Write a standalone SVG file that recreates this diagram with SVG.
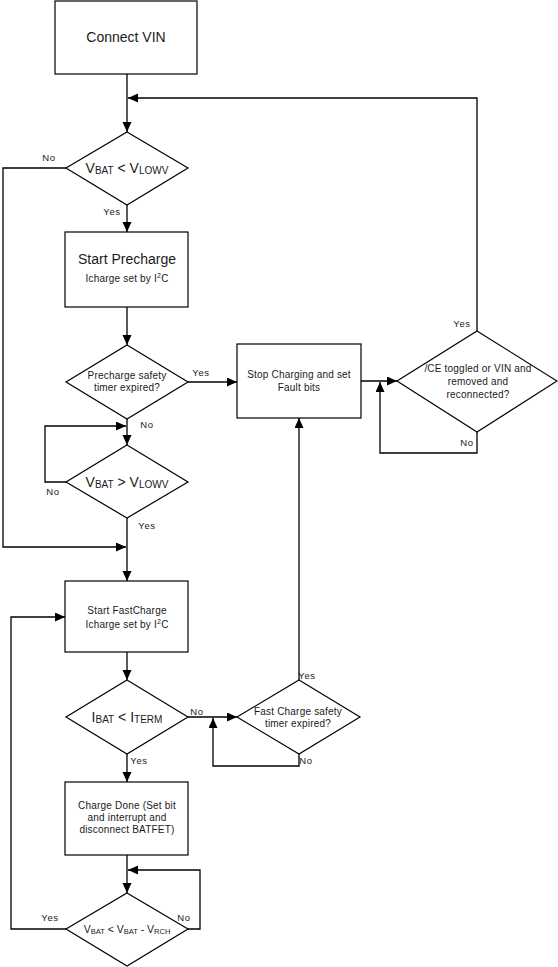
<svg xmlns="http://www.w3.org/2000/svg" width="558" height="967" viewBox="0 0 558 967">
<style>
.box{fill:#fff;stroke:#000;stroke-width:1.2}
.c{fill:none;stroke:#000;stroke-width:1.3}
text{font-family:"Liberation Sans",Arial,sans-serif;fill:#1a1a1a;text-anchor:middle}
.big{font-size:14px}
.sm{font-size:10px;letter-spacing:0.2px}
.lbl{font-size:9.5px;letter-spacing:0.6px}
.sub{font-size:10px}
</style>
<defs>
<marker id="ah" markerUnits="userSpaceOnUse" markerWidth="11" markerHeight="10" refX="10" refY="4.5" orient="auto">
<path d="M0,0 L10,4.5 L0,9 z" fill="#000"/>
</marker>
</defs>

<g id="connectors">
<path class="c" d="M127,74 V132" marker-end="url(#ah)"/>
<path class="c" d="M477,331 V98 H128" marker-end="url(#ah)"/>
<path class="c" d="M66,168 H3 V547 H126" marker-end="url(#ah)"/>
<path class="c" d="M127,205 V232" marker-end="url(#ah)"/>
<path class="c" d="M127,307 V345" marker-end="url(#ah)"/>
<path class="c" d="M188,382 H237" marker-end="url(#ah)"/>
<path class="c" d="M127,419 V445" marker-end="url(#ah)"/>
<path class="c" d="M66,482 H45 V426 H126" marker-end="url(#ah)"/>
<path class="c" d="M127,518 V581" marker-end="url(#ah)"/>
<path class="c" d="M361,381 H397" marker-end="url(#ah)"/>
<path class="c" d="M477,432 V453 H380 V382" marker-end="url(#ah)"/>
<path class="c" d="M127,652 V680" marker-end="url(#ah)"/>
<path class="c" d="M188,717 H237" marker-end="url(#ah)"/>
<path class="c" d="M299,680 V418" marker-end="url(#ah)"/>
<path class="c" d="M299,754 V766 H213 V718" marker-end="url(#ah)"/>
<path class="c" d="M127,754 V782" marker-end="url(#ah)"/>
<path class="c" d="M127,855 V893" marker-end="url(#ah)"/>
<path class="c" d="M188,929 H200 V870 H128" marker-end="url(#ah)"/>
<path class="c" d="M66,929 H11 V617 H65" marker-end="url(#ah)"/>
<text class="lbl" x="49" y="161">No</text>
<text class="lbl" x="112" y="215">Yes</text>
<text class="lbl" x="201" y="376">Yes</text>
<text class="lbl" x="147" y="428">No</text>
<text class="lbl" x="53" y="495">No</text>
<text class="lbl" x="147" y="529">Yes</text>
<text class="lbl" x="462" y="327">Yes</text>
<text class="lbl" x="467" y="446">No</text>
<text class="lbl" x="307" y="679">Yes</text>
<text class="lbl" x="197" y="715">No</text>
<text class="lbl" x="306" y="764">No</text>
<text class="lbl" x="139" y="764">Yes</text>
<text class="lbl" x="50" y="921">Yes</text>
<text class="lbl" x="184" y="921">No</text>
</g>

<g id="connect_vin">
<rect class="box" x="55" y="1" width="142" height="73"/>
<text class="big" x="126" y="42">Connect VIN</text>
</g>

<g id="d_vbat_lowv">
<path class="box" d="M127,132 L188,168 L127,205 L66,168 Z"/>
<text class="big" x="127" y="173">V<tspan class="sub" dy="1">BAT</tspan><tspan dy="-1"> &lt; V</tspan><tspan class="sub" dy="1">LOWV</tspan></text>
</g>

<g id="start_precharge">
<rect class="box" x="65" y="232" width="123" height="75"/>
<text class="big" x="127" y="264">Start Precharge</text>
<text class="sm" x="127" y="282" letter-spacing="0.4">Icharge set by I<tspan font-size="7" dy="-4">2</tspan><tspan dy="4">C</tspan></text>
</g>

<g id="d_precharge_timer">
<path class="box" d="M127,345 L188,382 L127,419 L66,382 Z"/>
<text class="sm" x="127" y="379">Precharge safety</text>
<text class="sm" x="127" y="391">timer expired?</text>
</g>

<g id="d_vbat_gt_lowv">
<path class="box" d="M127,445 L188,482 L127,518 L66,482 Z"/>
<text class="big" x="127" y="487">V<tspan class="sub" dy="1">BAT</tspan><tspan dy="-1"> &gt; V</tspan><tspan class="sub" dy="1">LOWV</tspan></text>
</g>

<g id="stop_charging">
<rect class="box" x="237" y="344" width="124" height="74"/>
<text class="sm" x="299" y="378">Stop Charging and set</text>
<text class="sm" x="299" y="391">Fault bits</text>
</g>

<g id="d_ce_toggled">
<path class="box" d="M477,331 L557,381 L477,432 L397,381 Z"/>
<text class="sm" x="478" y="372">/CE toggled or VIN and</text>
<text class="sm" x="478" y="385">removed and</text>
<text class="sm" x="478" y="398">reconnected?</text>
</g>

<g id="start_fastcharge">
<rect class="box" x="65" y="581" width="123" height="71"/>
<text class="sm" x="127" y="614">Start FastCharge</text>
<text class="sm" x="127" y="628" letter-spacing="0.4">Icharge set by I<tspan font-size="7" dy="-4">2</tspan><tspan dy="4">C</tspan></text>
</g>

<g id="d_ibat_iterm">
<path class="box" d="M127,680 L188,717 L127,754 L66,717 Z"/>
<text class="big" x="127" y="722">I<tspan class="sub" dy="1">BAT</tspan><tspan dy="-1"> &lt; I</tspan><tspan class="sub" dy="1">TERM</tspan></text>
</g>

<g id="d_fast_timer">
<path class="box" d="M299,680 L360,717 L299,754 L237,717 Z"/>
<text class="sm" x="298" y="715">Fast Charge safety</text>
<text class="sm" x="298" y="727">timer expired?</text>
</g>

<g id="charge_done">
<rect class="box" x="65" y="782" width="123" height="73"/>
<text class="sm" x="127" y="809">Charge Done (Set bit</text>
<text class="sm" x="127" y="821">and interrupt and</text>
<text class="sm" x="127" y="833">disconnect BATFET)</text>
</g>

<g id="d_recharge">
<path class="box" d="M127,893 L188,929 L127,966 L66,929 Z"/>
<text x="127" y="933" font-size="10.5">V<tspan font-size="7.5" dy="1">BAT</tspan><tspan dy="-1"> &lt; V</tspan><tspan font-size="7.5" dy="1">BAT</tspan><tspan dy="-1"> - V</tspan><tspan font-size="7.5" dy="1">RCH</tspan></text>
</g>
</svg>
